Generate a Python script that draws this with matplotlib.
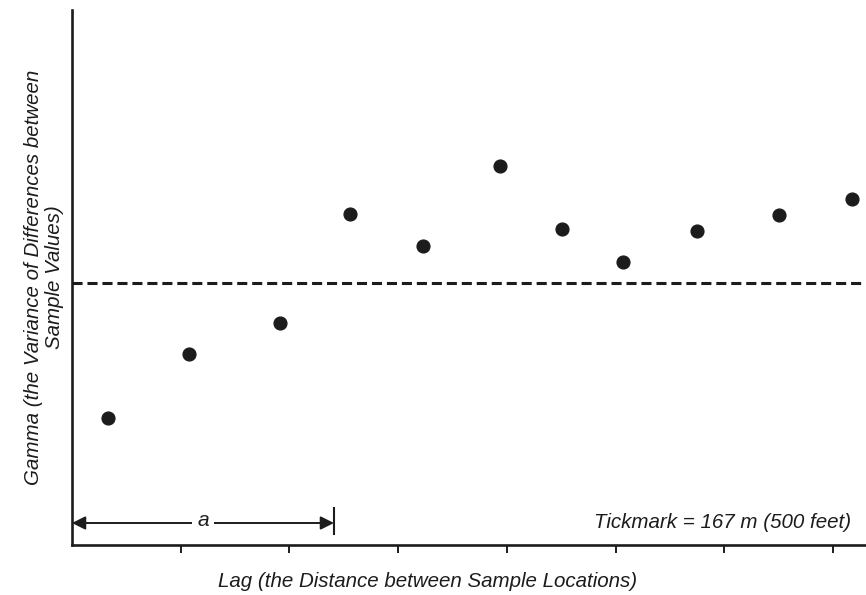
import numpy as np
import matplotlib.pyplot as plt

# lag in tickmark units (1 tick = 167 m), gamma in arbitrary units
lag = [0.33, 1.08, 1.91, 2.56, 3.23, 3.94, 4.51, 5.07, 5.75, 6.50, 7.18]
gamma = [1.27, 1.91, 2.22, 3.31, 2.99, 3.79, 3.16, 2.83, 3.14, 3.30, 3.46]
sill = 2.62
range_a = 2.41
xticks = [1, 2, 3, 4, 5, 6, 7]

plt.rcParams['font.family'] = ['Liberation Sans', 'DejaVu Sans']
ink = '#1c1c1c'

fig = plt.figure(figsize=(8.66, 5.95), dpi=100)
ax = fig.add_axes([72 / 866, 50 / 595, 794 / 866, 535 / 595])

ax.set_xlim(0, 794 / 108.7)
ax.set_ylim(0, 5.35)

ax.plot(lag, gamma, 'o', color=ink, markersize=9.2, zorder=3)
ax.axhline(sill, color=ink, lw=2.2, dashes=(3.3, 1.6))

# range arrow
ya = 0.22
ax.annotate('', xy=(0.0, ya), xytext=(range_a, ya),
            arrowprops=dict(arrowstyle='<|-|>', color=ink, lw=1.4,
                            mutation_scale=20, shrinkA=0, shrinkB=0))
ax.plot([range_a, range_a], [0.11, 0.37], color=ink, lw=1.5)
ax.text(range_a / 2, ya + 0.02, 'a', ha='center', va='center', fontsize=15,
        style='italic', color=ink,
        bbox=dict(facecolor='white', edgecolor='none', pad=4))

ax.text(7.17, 0.23, 'Tickmark = 167 m (500 feet)', ha='right', va='center',
        fontsize=14.8, style='italic', color=ink)

for side in ['top', 'right']:
    ax.spines[side].set_visible(False)
for side in ['left', 'bottom']:
    ax.spines[side].set_linewidth(1.9)
    ax.spines[side].set_color(ink)

ax.set_xticks(xticks)
ax.set_xticklabels([])
ax.set_yticks([])
ax.tick_params(axis='x', direction='out', length=6, width=1.4, color=ink)

ax.set_xlabel('Lag (the Distance between Sample Locations)', fontsize=14.8,
              style='italic', color=ink)
ax.xaxis.set_label_coords((428 - 72) / 794, -0.05)
ax.set_ylabel('Gamma (the Variance of Differences between\nSample Values)',
              fontsize=14.8, style='italic', color=ink, labelpad=6,
              linespacing=1.1)

fig.savefig('out.png', dpi=100)
